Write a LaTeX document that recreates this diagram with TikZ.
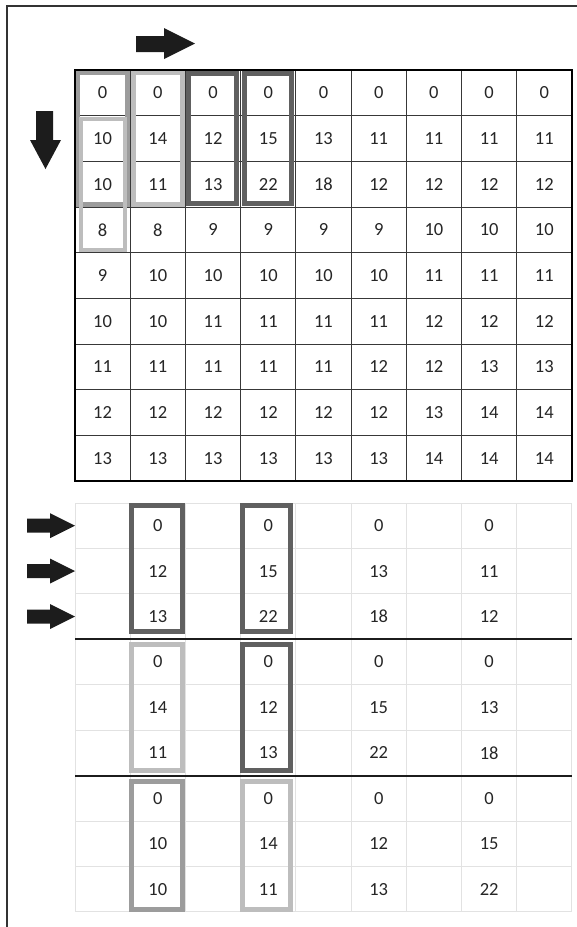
\documentclass[tikz,border=0pt]{standalone}
\usepackage{fontspec}
\setmainfont{Carlito}
\definecolor{txt}{HTML}{262626}
\definecolor{boxdark}{HTML}{606060}
\definecolor{boxmed}{HTML}{9C9C9C}
\definecolor{boxlight}{HTML}{BDBDBD}
\definecolor{arr}{HTML}{1C1C1C}
\definecolor{gridin}{HTML}{383838}
\definecolor{gridlt}{HTML}{E2E2E2}
\begin{document}
\begin{tikzpicture}[x=1pt,y=-1pt,
  num/.style={font=\fontsize{18.5}{22}\selectfont, text=txt, inner sep=0pt},
  dkbox/.style={draw=boxdark, line width=5pt},
  mdbox/.style={draw=boxmed, line width=5pt},
  ltbox/.style={draw=boxlight, line width=5pt},
  arrowshape/.style={fill=arr, draw=none},
  frameline/.style={draw=black!80, line width=1.2pt},
  innerline/.style={draw=gridin, line width=1pt},
  outerline/.style={draw=black, line width=2.5pt},
  ltline/.style={draw=gridlt, line width=1pt},
  sepline/.style={draw=arr, line width=2pt}]

\useasboundingbox (0,0) rectangle (577,927);
\fill[white] (0,0) rectangle (577,927);
\draw[frameline] (7,927) -- (7,6) -- (577,6);

% ---------- top grid ----------
\foreach \i in {1,...,8} {
  \draw[innerline] ({75+55.22*\i},70) -- ({75+55.22*\i},481);
  \draw[innerline] (75,{70+45.67*\i}) -- (572,{70+45.67*\i});
}

\draw[mdbox] (77.5,72.5) rectangle (127.7,204.5);
\draw[ltbox, line width=4pt] (81,119) rectangle (124.5,249.5);
\draw[ltbox] (133.2,72.5) rectangle (182.9,204.5);
\draw[dkbox] (188.9,73) rectangle (236.5,203.5);
\draw[dkbox] (244,73) rectangle (291,203.5);

\draw[outerline] (75,70) rectangle (572,481);

\foreach \row [count=\r from 0] in {
  {0,0,0,0,0,0,0,0,0},
  {10,14,12,15,13,11,11,11,11},
  {10,11,13,22,18,12,12,12,12},
  {8,8,9,9,9,9,10,10,10},
  {9,10,10,10,10,10,11,11,11},
  {10,10,11,11,11,11,12,12,12},
  {11,11,11,11,11,12,12,13,13},
  {12,12,12,12,12,12,13,14,14},
  {13,13,13,13,13,13,14,14,14}} {
  \foreach \v [count=\c from 0] in \row {
    \node[num] (t-\r-\c) at ({102.61+55.22*\c},{92.83+45.67*\r}) {\v};
  }
}

% arrows for top grid
\fill[arrowshape] (136,36) -- (164,36) -- (164,28) -- (195,43.5) -- (164,59) -- (164,52) -- (136,52) -- cycle;
\fill[arrowshape] (36,111) -- (53,111) -- (53,140) -- (61,140) -- (45.5,169) -- (30,140) -- (36,140) -- cycle;

% ---------- bottom grid ----------
\foreach \i in {0,...,9} {
  \draw[ltline] ({75+55.22*\i},503) -- ({75+55.22*\i},912);
  \draw[ltline] (75,{503+45.44*\i}) -- (572,{503+45.44*\i});
}
\draw[sepline] (75,639.3) -- (572,639.3);
\draw[sepline] (75,775.7) -- (572,775.7);

\draw[dkbox] (131.8,505.2) rectangle (182.5,631.8);
\draw[dkbox] (242.5,505.2) rectangle (290.8,631.8);
\draw[ltbox] (131.8,644) rectangle (182.5,770.3);
\draw[dkbox] (242.5,644) rectangle (290.8,770.3);
\draw[mdbox] (131.8,781.7) rectangle (182.5,909.2);
\draw[ltbox] (242.5,781.7) rectangle (290.8,909.2);

\foreach \row [count=\r from 0] in {
  {0,0,0,0},
  {12,15,13,11},
  {13,22,18,12},
  {0,0,0,0},
  {14,12,15,13},
  {11,13,22,18},
  {0,0,0,0},
  {10,14,12,15},
  {10,11,13,22}} {
  \foreach \v [count=\k from 0] in \row {
    \node[num] (b-\r-\k) at ({157.83+110.44*\k},{525.72+45.44*\r}) {\v};
  }
}

% arrows for bottom grid
\foreach \cy in {525.7,571.1,616.6} {
  \fill[arrowshape] (27,\cy-7) -- (50,\cy-7) -- (50,\cy-12.5) -- (75,\cy) -- (50,\cy+12.5) -- (50,\cy+7) -- (27,\cy+7) -- cycle;
}
\end{tikzpicture}
\end{document}
